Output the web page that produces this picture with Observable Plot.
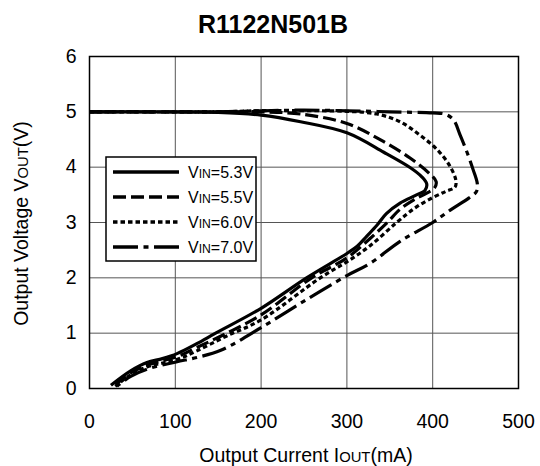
<!DOCTYPE html>
<html>
<head>
<meta charset="utf-8">
<script src="https://cdn.jsdelivr.net/npm/d3@7"></script>
<script src="https://cdn.jsdelivr.net/npm/@observablehq/plot@0.6"></script>
<style>
  html, body { margin: 0; padding: 0; background: white; }
  #wrap { position: relative; width: 540px; height: 466px; font-family: "Liberation Sans", Arial, sans-serif; }
  #title { position: absolute; left: 0; width: 546px; top: 12px; text-align: center; font-weight: bold; font-size: 25px; line-height: 25px; color: black; }
  #wrap svg.overlay { position: absolute; left: 0; top: 0; pointer-events: none; }
  #wrap > svg:first-of-type { position: absolute; left: 0; top: 0; }
</style>
</head>
<body>
<div id="wrap"><div id="title">R1122N501B</div></div>
<script>
// ---- data (mA, V) ----
const xTicks = [0, 100, 200, 300, 400, 500];
const yTicks = [0, 1, 2, 3, 4, 5, 6];

const vin53 = [[0,5.0],[100,5.0],[150,4.99],[200,4.94],[246,4.82],[300,4.62],[343,4.27],[374,3.99],[387,3.83],[393,3.70],[391,3.58],[380,3.49],[362,3.35],[346,3.16],[335,2.95],[323,2.75],[312,2.57],[300,2.44],[253,2.0],[200,1.45],[147,1.0],[125,0.81],[102,0.63],[85,0.54],[67,0.47],[48,0.32],[25,0.06]];
const vin55 = [[0,5.0],[150,5.0],[200,5.0],[246,4.96],[300,4.79],[343,4.46],[374,4.16],[395,3.90],[404,3.74],[402,3.62],[393,3.53],[378,3.41],[362,3.24],[347,3.0],[327,2.71],[300,2.36],[259,2.0],[200,1.33],[160,1.0],[125,0.74],[101,0.57],[67,0.42],[48,0.28],[28,0.04]];
const vin60 = [[0,5.0],[150,5.0],[200,5.02],[250,5.02],[300,5.01],[335,4.96],[362,4.82],[385,4.58],[405,4.32],[420,4.02],[427,3.76],[426,3.64],[415,3.56],[400,3.45],[380,3.27],[358,3.0],[327,2.58],[300,2.29],[269,2.0],[200,1.24],[160,0.95],[125,0.68],[101,0.52],[67,0.39],[48,0.25],[30,0.04]];
const vin70 = [[0,5.0],[150,5.0],[200,5.02],[250,5.03],[300,5.02],[350,5.0],[400,4.98],[414,4.96],[424,4.86],[432,4.58],[440,4.27],[447,3.96],[452,3.70],[451,3.56],[442,3.44],[420,3.22],[400,3.0],[362,2.66],[327,2.26],[300,2.04],[250,1.58],[200,1.10],[153,0.69],[125,0.56],[101,0.48],[67,0.35],[48,0.22],[32,0.04]];

const seriesNames = [["V","IN","=5.3V"],["V","IN","=5.5V"],["V","IN","=6.0V"],["V","IN","=7.0V"]];
const seriesData = [vin53, vin55, vin60, vin70];
const dashes = [null, "13,5", "4.5,3", "25,5.5,5,5.5"];

const xLabel = [["Output Current I", false], ["OUT", true], ["(mA)", false]];
const yLabel = [["Output Voltage V", false], ["OUT", true], ["(V)", false]];

const FONT = "'Liberation Sans', Arial, sans-serif";

const lineMarks = seriesData.map((d, i) => Plot.line(d, {
  x: p => p[0], y: p => p[1],
  stroke: "black", strokeWidth: 3.2,
  strokeDasharray: dashes[i] || undefined,
  strokeLinecap: "butt", strokeLinejoin: "round",
  curve: "catmull-rom"
}));

const chart = Plot.plot({
  width: 540, height: 466,
  marginTop: 56, marginBottom: 78, marginLeft: 89, marginRight: 22,
  style: { fontFamily: FONT, fontSize: "19px", background: "white", color: "black" },
  x: { domain: [0, 500] },
  y: { domain: [0, 6] },
  marks: [
    Plot.gridX(xTicks, { stroke: "#555", strokeOpacity: 1, strokeWidth: 1 }),
    Plot.gridY(yTicks, { stroke: "#555", strokeOpacity: 1, strokeWidth: 1 }),
    ...lineMarks,
    Plot.frame({ stroke: "black", strokeWidth: 1.5 }),
    Plot.axisX(xTicks, { tickSize: 0, tickPadding: 26, fontSize: 19.5, tickFormat: d3.format("d"), label: null }),
    Plot.axisY(yTicks, { tickSize: 0, tickPadding: 13, fontSize: 19.5, tickFormat: d3.format("d"), label: null }),
    Plot.text([xLabel.map(s => s[0]).join("")], { text: d => d, frameAnchor: "bottom", lineAnchor: "bottom", textAnchor: "middle", dy: 73, dx: 2, fontSize: 19.5, className: "xlab" }),
    Plot.text([yLabel.map(s => s[0]).join("")], { text: d => d, frameAnchor: "left", lineAnchor: "bottom", textAnchor: "middle", rotate: -90, dx: -62, dy: 1, fontSize: 19.5, className: "ylab" })
  ]
});

function richify(svg, cls, segs) {
  d3.select(svg).selectAll(`g.${cls} text`).each(function () {
    const t = d3.select(this);
    t.text(null);
    segs.forEach(([s, small]) => {
      const ts = t.append("tspan").text(s);
      if (small) ts.attr("font-size", "0.76em");
    });
  });
}
richify(chart, "xlab", xLabel);
richify(chart, "ylab", yLabel);

const wrap = document.getElementById("wrap");
wrap.insertBefore(chart, wrap.firstChild);

// ---- legend (inside the plot area, top-left) ----
const lg = d3.select(wrap).append("svg").attr("class", "overlay")
  .attr("width", 540).attr("height", 466);
lg.append("rect").attr("x", 106).attr("y", 157).attr("width", 150).attr("height", 104)
  .attr("fill", "white").attr("stroke", "black").attr("stroke-width", 1.5);
seriesNames.forEach((name, i) => {
  const yy = 172 + i * 25;
  const ln = lg.append("line").attr("x1", 113).attr("x2", 179).attr("y1", yy).attr("y2", yy)
    .attr("stroke", "black").attr("stroke-width", 3.4).attr("stroke-linecap", "butt");
  if (dashes[i]) ln.attr("stroke-dasharray", dashes[i]);
  const t = lg.append("text").attr("x", 188).attr("y", yy + 6)
    .attr("font-family", FONT).attr("font-size", 16).attr("fill", "black");
  t.append("tspan").text(name[0]);
  t.append("tspan").attr("font-size", "0.76em").text(name[1]);
  t.append("tspan").text(name[2]);
});
</script>
</body>
</html>
